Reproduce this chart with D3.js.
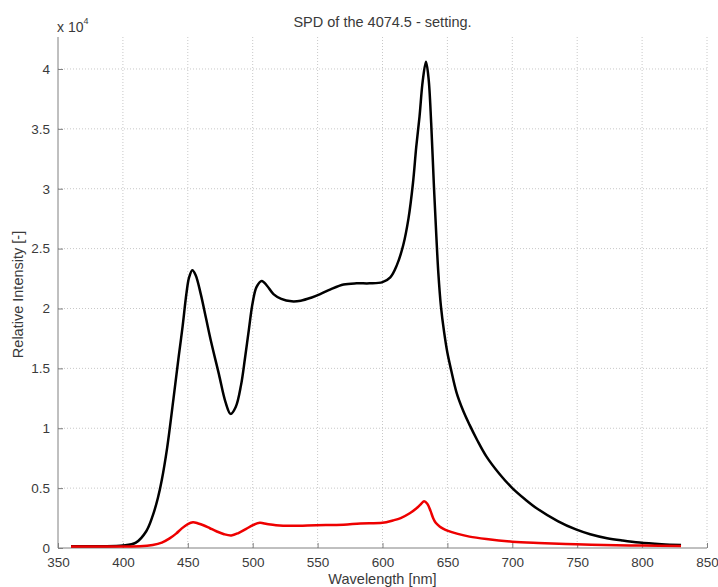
<!DOCTYPE html>
<html>
<head>
<meta charset="utf-8">
<script src="https://cdn.jsdelivr.net/npm/d3@7"></script>
<style>
  html, body { margin: 0; padding: 0; background: #fff; }
  svg { display: block; font-family: "Liberation Sans", Arial, Helvetica, sans-serif; }
</style>
</head>
<body>
<svg id="chart" width="718" height="587"></svg>
<script>
// ---- data (intensity in units of 10^4) ----
const titleText = "SPD of the 4074.5 - setting.";
const xLabel = "Wavelength [nm]";
const yLabel = "Relative Intensity [-]";
const xTicks = [350, 400, 450, 500, 550, 600, 650, 700, 750, 800, 850];
const yTicks = [0, 0.5, 1, 1.5, 2, 2.5, 3, 3.5, 4];

const blackWl = [360, 380, 400, 410, 418, 423, 427, 430, 434, 439, 443, 446, 449, 451, 453.5, 456, 460, 464, 468, 474, 479, 483, 487, 491, 494, 497, 500, 503, 507, 511, 516, 522, 530, 537, 545, 552, 560, 570, 580, 590, 600, 606, 611, 616, 620, 623.5, 626, 628.5, 631, 633.5, 635.5, 637.5, 639.5, 641.5, 643, 645, 647.5, 650, 653, 657, 662, 667, 673, 680, 690, 700, 710, 719, 735, 749, 760, 773, 785, 798, 815, 830];
const blackVal = [0.015, 0.015, 0.02, 0.045, 0.14, 0.27, 0.42, 0.57, 0.83, 1.25, 1.6, 1.85, 2.13, 2.26, 2.32, 2.28, 2.12, 1.92, 1.72, 1.45, 1.22, 1.12, 1.18, 1.36, 1.58, 1.82, 2.05, 2.18, 2.23, 2.19, 2.12, 2.08, 2.06, 2.065, 2.09, 2.12, 2.16, 2.20, 2.21, 2.21, 2.22, 2.26, 2.36, 2.53, 2.75, 3.05, 3.35, 3.60, 3.90, 4.06, 3.92, 3.55, 3.05, 2.6, 2.3, 2.02, 1.8, 1.63, 1.48, 1.30, 1.15, 1.03, 0.9, 0.765, 0.62, 0.50, 0.405, 0.33, 0.225, 0.155, 0.115, 0.082, 0.062, 0.045, 0.032, 0.025];

const redWl = [360, 380, 400, 413, 423, 430, 436, 441, 445, 450, 454, 458, 462, 467, 472, 478, 483.5, 489, 495, 500, 505.5, 511, 518, 530, 549, 570, 583, 600, 608, 614, 621, 626, 629, 632, 634.5, 637, 639, 641, 644, 647, 650, 658, 667, 680, 700, 720, 749, 780, 800, 830];
const redVal = [0.012, 0.013, 0.013, 0.014, 0.025, 0.045, 0.08, 0.12, 0.16, 0.2, 0.215, 0.205, 0.19, 0.165, 0.14, 0.115, 0.105, 0.125, 0.16, 0.19, 0.21, 0.2, 0.19, 0.185, 0.19, 0.195, 0.205, 0.21, 0.23, 0.25, 0.29, 0.33, 0.36, 0.39, 0.37, 0.31, 0.25, 0.21, 0.18, 0.16, 0.145, 0.118, 0.095, 0.075, 0.053, 0.042, 0.031, 0.024, 0.02, 0.017];

(function () {
// ---- layout ----
const svg = d3.select("#chart");
const mLeft = 58, mRight = 707, mTop = 37, mBottom = 548;
const x = d3.scaleLinear().domain([350, 850]).range([mLeft, mRight]);
const y = d3.scaleLinear().domain([0, 4.267]).range([mBottom, mTop]);

const textColor = "#3a3a3a";
const axisColor = "#808080";

// grid
const grid = svg.append("g");
grid.selectAll("line.vg").data(xTicks.slice(1)).enter().append("line")
  .attr("x1", d => x(d)).attr("x2", d => x(d))
  .attr("y1", mTop).attr("y2", mBottom)
  .attr("stroke", "#c8c8c8").attr("stroke-width", 1).attr("stroke-dasharray", "1,2");
grid.selectAll("line.hg").data(yTicks.slice(1)).enter().append("line")
  .attr("x1", mLeft).attr("x2", mRight)
  .attr("y1", d => y(d)).attr("y2", d => y(d))
  .attr("stroke", "#c8c8c8").attr("stroke-width", 1).attr("stroke-dasharray", "1,2");

// axes
const xAxis = d3.axisBottom(x).tickValues(xTicks).tickSizeInner(-5).tickSizeOuter(0).tickPadding(9);
const yAxis = d3.axisLeft(y).tickValues(yTicks).tickSizeInner(-5).tickSizeOuter(0).tickPadding(8)
  .tickFormat(d => d3.format("~g")(d));

const gx = svg.append("g").attr("transform", `translate(0,${mBottom})`).call(xAxis);
const gy = svg.append("g").attr("transform", `translate(${mLeft},0)`).call(yAxis);
[gx, gy].forEach(g => {
  g.select(".domain").attr("stroke", axisColor);
  g.selectAll(".tick line").attr("stroke", axisColor);
  g.selectAll(".tick text").attr("fill", textColor).style("font-size", "13.5px")
    .style("font-family", "'Liberation Sans', Arial, sans-serif");
});
gx.select(".domain").attr("d", `M${mLeft},0H${mRight}`);
gy.select(".domain").attr("d", `M0,${mBottom}V${mTop}`);

// lines
const line = d3.line().curve(d3.curveCatmullRom.alpha(0.5));
svg.append("path")
  .attr("d", line(blackWl.map((w, i) => [x(w), y(blackVal[i])])))
  .attr("fill", "none").attr("stroke", "#000").attr("stroke-width", 2.5)
  .attr("stroke-linejoin", "round");
svg.append("path")
  .attr("d", line(redWl.map((w, i) => [x(w), y(redVal[i])])))
  .attr("fill", "none").attr("stroke", "#ee0000").attr("stroke-width", 2.5)
  .attr("stroke-linejoin", "round");

// texts
svg.append("text").attr("x", (mLeft + mRight) / 2).attr("y", 26.5)
  .attr("text-anchor", "middle").attr("fill", textColor).style("font-size", "14.5px")
  .text(titleText);

const mult = svg.append("text").attr("x", 57).attr("y", 31.5).attr("fill", textColor).style("font-size", "14px");
mult.append("tspan").text("x 10");
mult.append("tspan").attr("dy", -8).style("font-size", "9px").text("4");

svg.append("text").attr("x", (mLeft + mRight) / 2).attr("y", 584)
  .attr("text-anchor", "middle").attr("fill", textColor).style("font-size", "14.5px")
  .text(xLabel);

svg.append("text").attr("transform", `translate(23,${(mTop + mBottom) / 2 + 2}) rotate(-90)`)
  .attr("text-anchor", "middle").attr("fill", textColor).style("font-size", "14.5px")
  .text(yLabel);
})();
</script>
</body>
</html>
